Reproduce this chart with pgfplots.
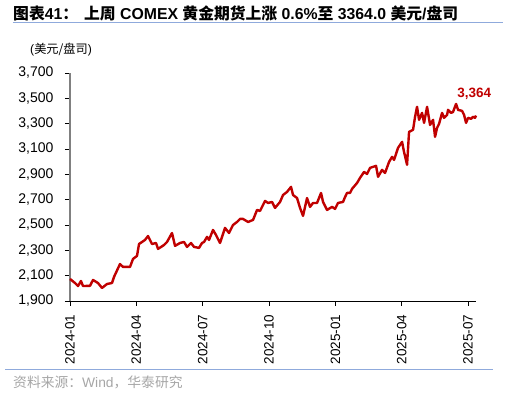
\documentclass[border=0pt]{standalone}
\usepackage{pgfplots}
\pgfplotsset{compat=1.18}
\usepackage{fontspec}
\setmainfont{Liberation Sans}
\newfontfamily\cjk{Noto Sans CJK SC}
\definecolor{goldred}{HTML}{C00000}
\definecolor{rule}{HTML}{8FAADC}
\definecolor{src}{HTML}{A6A6A6}
\begin{document}
\begin{tikzpicture}[x=1pt,y=1pt]
\useasboundingbox (0,0) rectangle (513,395);
\node[anchor=west,inner sep=0pt] at (13,382) {\fontsize{15.8}{17}\selectfont\bfseries{\cjk 图表}41{\cjk ：}\hspace{6pt}{\cjk 上周} COMEX {\cjk 黄金期货上涨} 0.6\%{\cjk 至} 3364.0 {\cjk 美元}/{\cjk 盘司}};
\draw[rule,line width=1pt] (13,372) -- (503,372);
\node[anchor=west,inner sep=0pt] at (30,345) {\fontsize{12.2}{14}\selectfont(\cjk 美元/盘司\normalfont)};
\draw[rule,line width=1pt] (5,25) -- (493,25);
\node[anchor=west,inner sep=0pt,text=src] at (13,13) {\fontsize{13.8}{15}\selectfont{\cjk 资料来源：}Wind{\cjk ，华泰研究}};
\begin{axis}[
  at={(70pt,94pt)}, anchor=south west, scale only axis,
  width=406pt, height=228pt,
  xmin=0, xmax=18.36, ymin=1900, ymax=3700,
  axis x line=bottom, axis y line=left,
  axis line style={-},
  x axis line style={black, line width=0.9pt},
  y axis line style={draw=gray, line width=1.6pt},
  ytick={1900,2100,...,3700},
  xtick={0,3,...,18},
  xticklabels={2024-01,2024-04,2024-07,2024-10,2025-01,2025-04,2025-07},
  x tick label style={rotate=90, anchor=east, xshift=-5pt, font=\fontsize{13.5}{15}\selectfont},
  y tick label style={xshift=-8pt, font=\fontsize{14}{16}\selectfont},
  tick align=outside, major tick length=5pt,
  tick style={black, line width=0.8pt},
  /pgf/number format/assume math mode=true,
  /pgf/number format/1000 sep={,},
  scaled y ticks=false,
  clip=false,
]
\addplot[goldred, line width=2.4pt, line join=round] coordinates {
(0,2074) (0.226,2042) (0.362,2018) (0.497,2058) (0.588,2018) (0.905,2020)
(1.040,2066) (1.266,2042) (1.447,2003) (1.673,2034) (1.899,2042) (1.990,2090)
(2.261,2192) (2.397,2169) (2.714,2169) (2.849,2232) (3.030,2256) (3.121,2350)
(3.392,2382) (3.528,2413) (3.709,2350) (3.890,2358) (3.980,2311) (4.251,2342)
(4.387,2366) (4.613,2437) (4.749,2335) (4.975,2358) (5.156,2366) (5.292,2327)
(5.473,2358) (5.608,2327) (5.834,2319) (5.970,2358) (6.061,2366) (6.196,2406)
(6.287,2382) (6.468,2461) (6.603,2421) (6.784,2358) (7.010,2477) (7.191,2437)
(7.372,2500) (7.553,2524) (7.689,2548) (7.824,2548) (8.051,2524) (8.277,2540)
(8.458,2619) (8.593,2611) (8.819,2690) (8.955,2674) (9.136,2682) (9.272,2635)
(9.498,2682) (9.634,2737) (9.814,2761) (9.995,2801) (10.086,2737) (10.267,2713)
(10.402,2635) (10.538,2572) (10.719,2713) (10.855,2643) (10.990,2674) (11.171,2674)
(11.352,2753) (11.443,2682) (11.624,2619) (11.850,2643) (11.985,2627) (12.121,2674)
(12.347,2682) (12.438,2721) (12.528,2753) (12.664,2753) (12.754,2785) (12.981,2832)
(13.116,2872) (13.297,2919) (13.433,2903) (13.569,2951) (13.704,2959) (13.840,2967)
(13.930,2880) (14.111,2935) (14.247,2911) (14.428,2998) (14.563,3038) (14.654,3014)
(14.835,3109) (15.016,3156) (15.106,3077) (15.242,2975) (15.332,3235) (15.513,3251)
(15.604,3354) (15.694,3433) (15.785,3330) (15.920,3385) (16.011,3306) (16.147,3433)
(16.282,3290) (16.418,3330) (16.508,3196) (16.599,3267) (16.689,3298) (16.825,3385)
(16.915,3346) (17.051,3369) (17.096,3409) (17.232,3385) (17.322,3393) (17.458,3456)
(17.548,3409) (17.730,3401) (17.820,3369) (17.911,3306) (18.001,3346) (18.137,3338)
(18.227,3354) (18.318,3346) (18.36,3364)
};
\node[text=goldred, font=\fontsize{13.5}{15}\selectfont\bfseries, inner sep=0pt] at (axis cs:18.28,3364) [yshift=22pt] {3,364};
\end{axis}
\end{tikzpicture}
\end{document}
